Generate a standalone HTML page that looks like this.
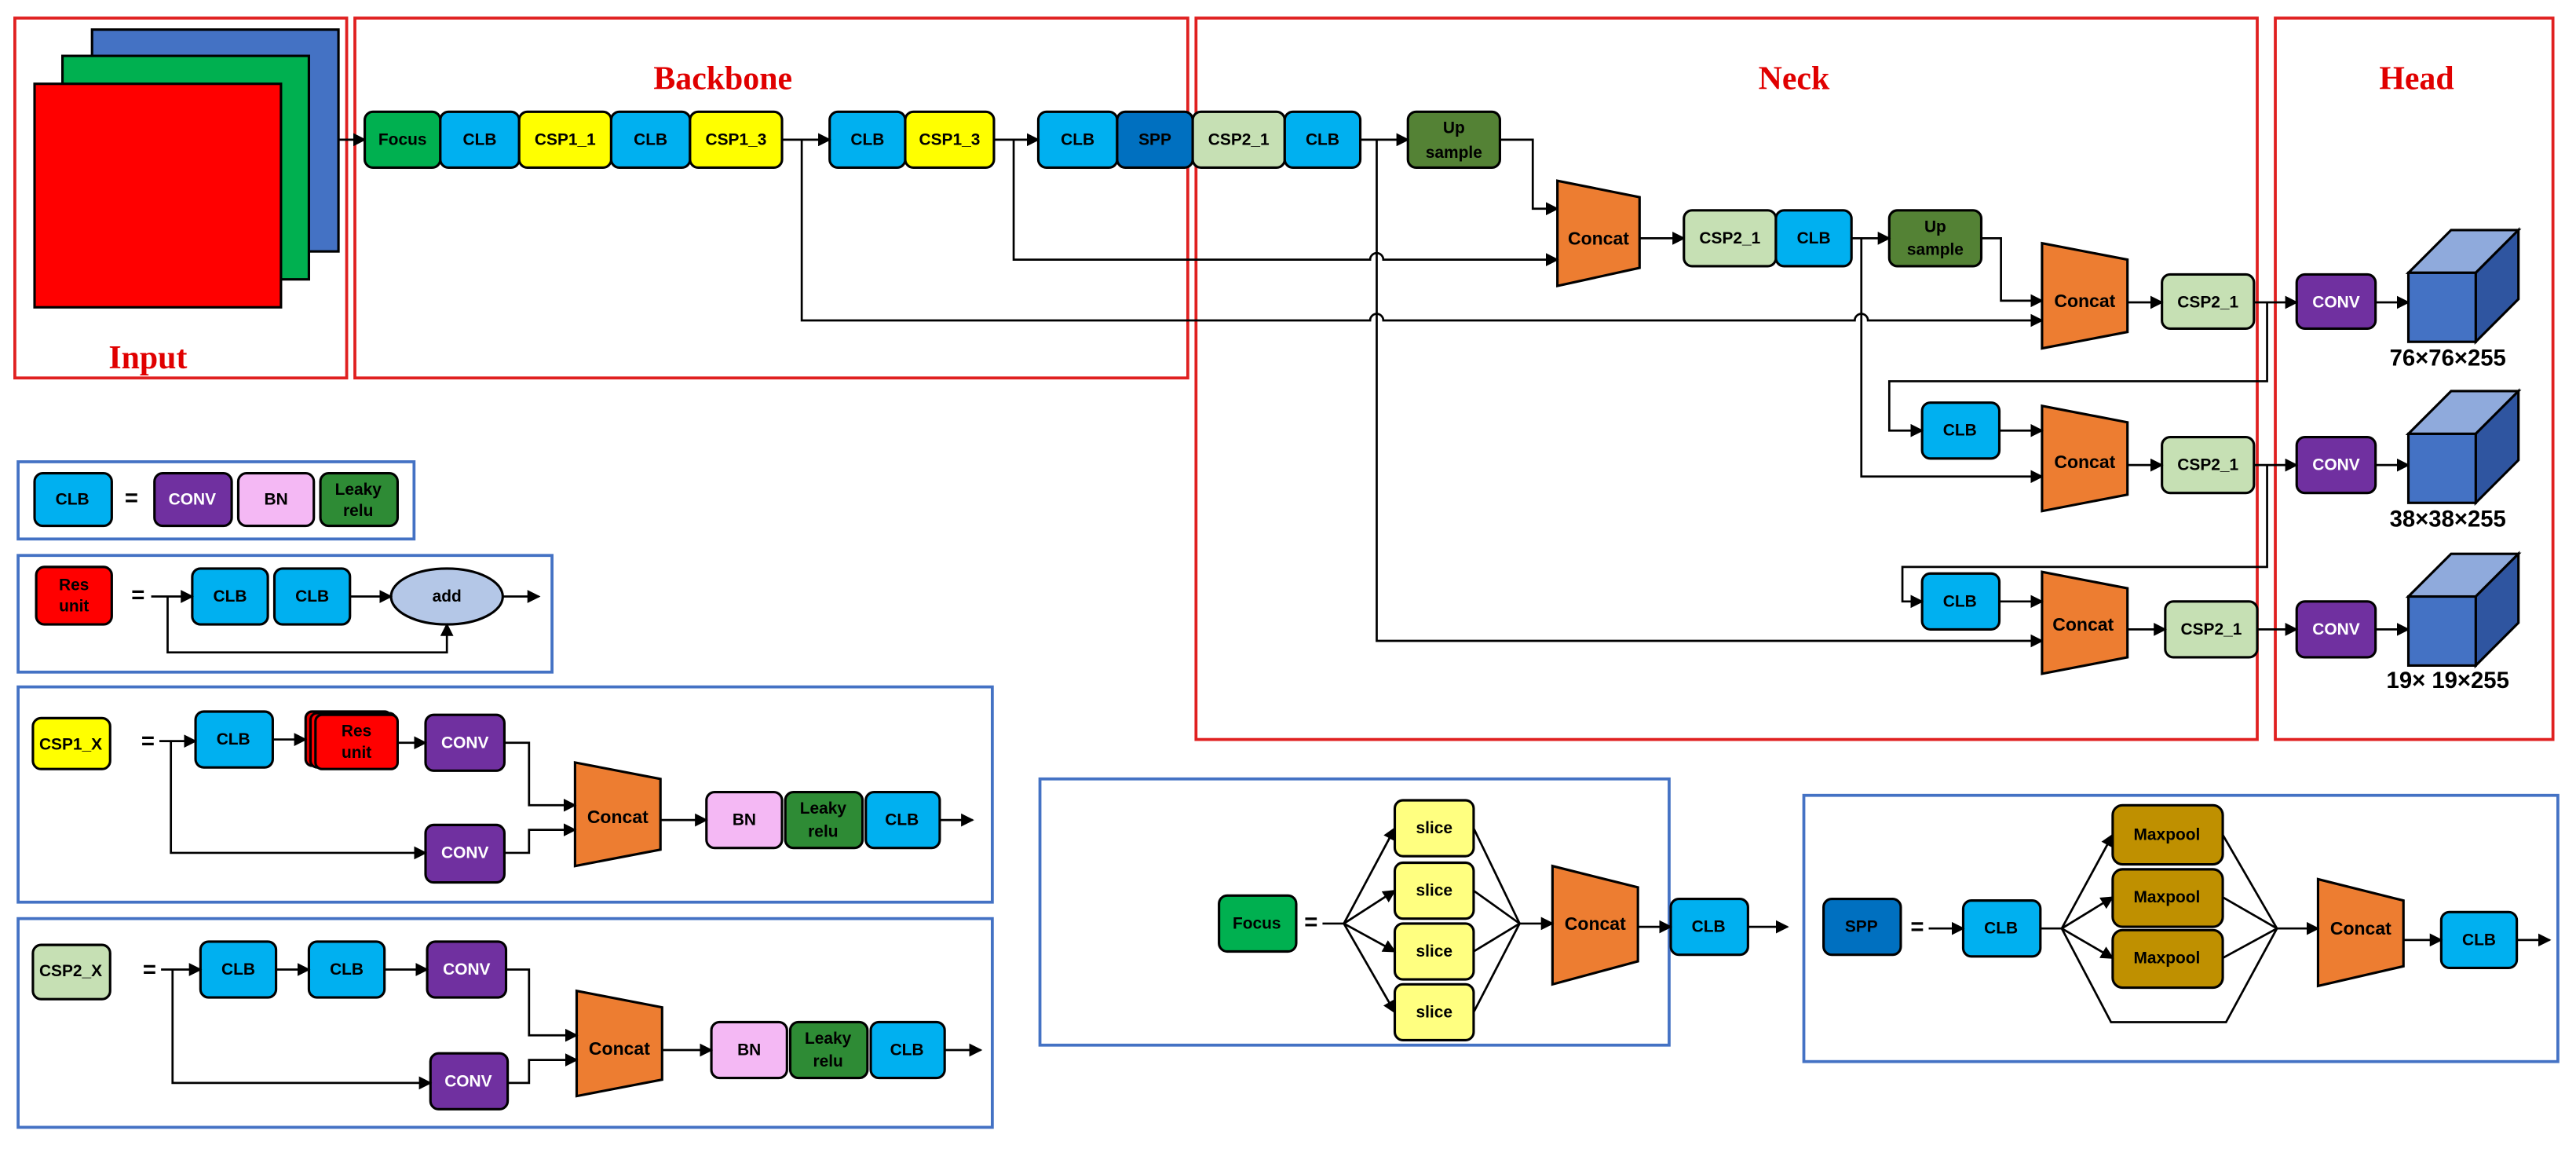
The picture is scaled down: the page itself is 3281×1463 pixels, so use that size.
<!DOCTYPE html>
<html><head><meta charset="utf-8"><style>
html,body{margin:0;padding:0;background:#fff;}
svg{display:block;}
text{font-family:"Liberation Sans",sans-serif;font-weight:bold;text-anchor:middle;dominant-baseline:central;}
.b{stroke:#000;stroke-width:1.5;}
.l{fill:none;stroke:#000;stroke-width:1.3;}
.t{font-size:10px;}
.rt{fill:#e00000;font-family:"Liberation Serif",serif;font-size:20px;}
</style></head><body>
<svg width="3281" height="1463" viewBox="0 0 1568 699.2" xmlns="http://www.w3.org/2000/svg">
<defs><marker id="a" markerWidth="8" markerHeight="8" refX="7" refY="4" orient="auto" markerUnits="userSpaceOnUse"><path d="M0,0 L8,4 L0,8 z" fill="#000"/></marker></defs>
<rect width="1568" height="700" fill="#fff"/>
<g fill="none" stroke="#e02020" stroke-width="1.8">
<rect x="9" y="11" width="202" height="219"/>
<rect x="216" y="11" width="507" height="219"/>
<rect x="728" y="11" width="646" height="439"/>
<rect x="1385" y="11" width="169" height="439"/>
</g>
<text class="rt" x="90" y="218">Input</text>
<text class="rt" x="440" y="48">Backbone</text>
<text class="rt" x="1092" y="48">Neck</text>
<text class="rt" x="1471" y="48">Head</text>
<rect x="56" y="18" width="150" height="135" fill="#4472c4" class="b"/>
<rect x="38" y="34" width="150" height="136" fill="#00b050" class="b"/>
<rect x="21" y="51" width="150" height="136" fill="#ff0000" class="b"/>
<line x1="206" y1="85" x2="222" y2="85" class="l" marker-end="url(#a)"/>
<g class="b">
<rect x="222" y="68" width="46" height="34" rx="5" fill="#00b050"/>
<rect x="268" y="68" width="48" height="34" rx="5" fill="#00b0f0"/>
<rect x="316" y="68" width="56" height="34" rx="5" fill="#ffff00"/>
<rect x="372" y="68" width="48" height="34" rx="5" fill="#00b0f0"/>
<rect x="420" y="68" width="56" height="34" rx="5" fill="#ffff00"/>
<rect x="505" y="68" width="46" height="34" rx="5" fill="#00b0f0"/>
<rect x="551" y="68" width="54" height="34" rx="5" fill="#ffff00"/>
<rect x="632" y="68" width="48" height="34" rx="5" fill="#00b0f0"/>
<rect x="680" y="68" width="46" height="34" rx="5" fill="#0070c0"/>
<rect x="726" y="68" width="56" height="34" rx="5" fill="#c6e0b4"/>
<rect x="782" y="68" width="46" height="34" rx="5" fill="#00b0f0"/>
<rect x="857" y="68" width="56" height="34" rx="5" fill="#548235"/>
</g>
<g class="t">
<text x="245" y="85">Focus</text><text x="292" y="85">CLB</text><text x="344" y="85">CSP1_1</text><text x="396" y="85">CLB</text><text x="448" y="85">CSP1_3</text>
<text x="528" y="85">CLB</text><text x="578" y="85">CSP1_3</text><text x="656" y="85">CLB</text><text x="703" y="85">SPP</text><text x="754" y="85">CSP2_1</text><text x="805" y="85">CLB</text>
<text x="885" y="78">Up</text><text x="885" y="93">sample</text>
</g>
<line x1="476" y1="85" x2="505" y2="85" class="l" marker-end="url(#a)"/>
<line x1="605" y1="85" x2="632" y2="85" class="l" marker-end="url(#a)"/>
<line x1="828" y1="85" x2="857" y2="85" class="l" marker-end="url(#a)"/>
<path d="M913,85 H933 V127 H948" class="l" marker-end="url(#a)"/>
<path d="M948,110 L998,120 L998,163 L948,174 Z" fill="#ed7d31" class="b"/>
<text x="973" y="145" class="t" style="font-size:11px">Concat</text>
<line x1="998" y1="145" x2="1025" y2="145" class="l" marker-end="url(#a)"/>
<g class="b">
<rect x="1025" y="128" width="56" height="34" rx="5" fill="#c6e0b4"/>
<rect x="1081" y="128" width="46" height="34" rx="5" fill="#00b0f0"/>
<rect x="1150" y="128" width="56" height="34" rx="5" fill="#548235"/>
</g>
<g class="t"><text x="1053" y="145">CSP2_1</text><text x="1104" y="145">CLB</text><text x="1178" y="138">Up</text><text x="1178" y="152">sample</text></g>
<line x1="1127" y1="145" x2="1150" y2="145" class="l" marker-end="url(#a)"/>
<path d="M1206,145 H1218 V183 H1243" class="l" marker-end="url(#a)"/>
<path d="M617,85 V158 H834 a4,4 0 0 1 8,0 H948" class="l" marker-end="url(#a)"/>
<path d="M488,85 V195 H834 a4,4 0 0 1 8,0 H1129 a4,4 0 0 1 8,0 H1243" class="l" marker-end="url(#a)"/>
<path d="M838,85 V390 H1243" class="l" marker-end="url(#a)"/>
<path d="M1133,145 V290 H1243" class="l" marker-end="url(#a)"/>
<g fill="#ed7d31" class="b">
<path d="M1243,148 L1295,158 L1295,202 L1243,212 Z"/>
<path d="M1243,247 L1295,257 L1295,301 L1243,311 Z"/>
<path d="M1243,348 L1295,358 L1295,400 L1243,410 Z"/>
</g>
<g class="t" style="font-size:11px"><text x="1269" y="183">Concat</text><text x="1269" y="281">Concat</text><text x="1268" y="380">Concat</text></g>
<g class="b">
<rect x="1316" y="167" width="56" height="33" rx="5" fill="#c6e0b4"/>
<rect x="1316" y="266" width="56" height="34" rx="5" fill="#c6e0b4"/>
<rect x="1318" y="366" width="56" height="34" rx="5" fill="#c6e0b4"/>
<rect x="1170" y="245" width="47" height="34" rx="5" fill="#00b0f0"/>
<rect x="1170" y="349" width="47" height="34" rx="5" fill="#00b0f0"/>
<rect x="1398" y="167" width="48" height="33" rx="5" fill="#7030a0"/>
<rect x="1398" y="266" width="48" height="34" rx="5" fill="#7030a0"/>
<rect x="1398" y="366" width="48" height="34" rx="5" fill="#7030a0"/>
</g>
<g class="t"><text x="1344" y="184">CSP2_1</text><text x="1344" y="283">CSP2_1</text><text x="1346" y="383">CSP2_1</text>
<text x="1193" y="262">CLB</text><text x="1193" y="366">CLB</text></g>
<g class="t"><text x="1422" y="184" fill="#fff">CONV</text><text x="1422" y="283" fill="#fff">CONV</text><text x="1422" y="383" fill="#fff">CONV</text></g>
<g class="l">
<line x1="1295" y1="184" x2="1316" y2="184" marker-end="url(#a)"/>
<line x1="1295" y1="283" x2="1316" y2="283" marker-end="url(#a)"/>
<line x1="1295" y1="383" x2="1318" y2="383" marker-end="url(#a)"/>
<line x1="1372" y1="184" x2="1398" y2="184" marker-end="url(#a)"/>
<line x1="1372" y1="283" x2="1398" y2="283" marker-end="url(#a)"/>
<line x1="1374" y1="383" x2="1398" y2="383" marker-end="url(#a)"/>
<line x1="1446" y1="184" x2="1466" y2="184" marker-end="url(#a)"/>
<line x1="1446" y1="283" x2="1466" y2="283" marker-end="url(#a)"/>
<line x1="1446" y1="383" x2="1466" y2="383" marker-end="url(#a)"/>
<line x1="1217" y1="262" x2="1243" y2="262" marker-end="url(#a)"/>
<line x1="1217" y1="366" x2="1243" y2="366" marker-end="url(#a)"/>
<path d="M1380,184 V232 H1150 V262 H1170" marker-end="url(#a)"/>
<path d="M1380,283 V345 H1158 V366 H1170" marker-end="url(#a)"/>
</g>
<g class="b">
<path d="M1466,166 L1492,140 L1533,140 L1507,166 Z" fill="#8faadc"/>
<path d="M1507,166 L1533,140 L1533,182 L1507,208 Z" fill="#2f55a0"/>
<rect x="1466" y="166" width="41" height="42" fill="#4472c4"/>
<path d="M1466,264 L1492,238 L1533,238 L1507,264 Z" fill="#8faadc"/>
<path d="M1507,264 L1533,238 L1533,280 L1507,306 Z" fill="#2f55a0"/>
<rect x="1466" y="264" width="41" height="42" fill="#4472c4"/>
<path d="M1466,363 L1492,337 L1533,337 L1507,363 Z" fill="#8faadc"/>
<path d="M1507,363 L1533,337 L1533,379 L1507,405 Z" fill="#2f55a0"/>
<rect x="1466" y="363" width="41" height="42" fill="#4472c4"/>
</g>
<g style="font-size:14px"><text x="1490" y="218">76×76×255</text><text x="1490" y="316">38×38×255</text><text x="1490" y="414">19× 19×255</text></g>
<g fill="none" stroke="#4472c4" stroke-width="1.8">
<rect x="11" y="281" width="241" height="47"/>
<rect x="11" y="338" width="325" height="71"/>
<rect x="11" y="418" width="593" height="131"/>
<rect x="11" y="559" width="593" height="127"/>
<rect x="633" y="474" width="383" height="162"/>
<rect x="1098" y="484" width="459" height="162"/>
</g>
<g class="b">
<rect x="21" y="288" width="47" height="32" rx="5" fill="#00b0f0"/>
<rect x="94" y="288" width="47" height="32" rx="5" fill="#7030a0"/>
<rect x="145" y="288" width="46" height="32" rx="5" fill="#f4b8f4"/>
<rect x="195" y="288" width="47" height="32" rx="5" fill="#2e8b35"/>
</g>
<g class="t"><text x="44" y="304">CLB</text><text x="117" y="304" fill="#fff">CONV</text><text x="168" y="304">BN</text><text x="218" y="298">Leaky</text><text x="218" y="311">relu</text></g>
<text x="80" y="303" style="font-size:14px">=</text>
<rect x="22" y="345" width="46" height="35" rx="5" fill="#ff0000" class="b"/>
<g class="t"><text x="45" y="356">Res</text><text x="45" y="369">unit</text></g>
<text x="84" y="362" style="font-size:14px">=</text>
<g class="b"><rect x="117" y="346" width="46" height="34" rx="5" fill="#00b0f0"/><rect x="167" y="346" width="46" height="34" rx="5" fill="#00b0f0"/>
<ellipse cx="272" cy="363" rx="34" ry="17" fill="#b4c7e7"/></g>
<g class="t"><text x="140" y="363">CLB</text><text x="190" y="363">CLB</text><text x="272" y="363">add</text></g>
<g class="l">
<line x1="92" y1="363" x2="117" y2="363" marker-end="url(#a)"/>
<line x1="213" y1="363" x2="238" y2="363" marker-end="url(#a)"/>
<line x1="306" y1="363" x2="328" y2="363" marker-end="url(#a)"/>
<path d="M102,363 V397 H272 V380" marker-end="url(#a)"/>
</g>
<g class="b">
<rect x="20" y="437" width="47" height="31" rx="5" fill="#ffff00"/>
<rect x="119" y="433" width="47" height="34" rx="5" fill="#00b0f0"/>
<rect x="186" y="433" width="52" height="33" rx="4" fill="#e00000"/>
<rect x="189" y="434" width="52" height="33" rx="4" fill="#ff0000"/>
<rect x="192" y="435" width="50" height="33" rx="4" fill="#ff0000"/>
<rect x="259" y="435" width="48" height="34" rx="5" fill="#7030a0"/>
<rect x="259" y="502" width="48" height="35" rx="5" fill="#7030a0"/>
<path d="M350,464 L402,474 L402,517 L350,527 Z" fill="#ed7d31"/>
<rect x="430" y="482" width="46" height="34" rx="5" fill="#f4b8f4"/>
<rect x="478" y="482" width="47" height="34" rx="5" fill="#2e8b35"/>
<rect x="527" y="482" width="45" height="34" rx="5" fill="#00b0f0"/>
</g>
<g class="t"><text x="43" y="453">CSP1_X</text><text x="142" y="450">CLB</text><text x="217" y="445">Res</text><text x="217" y="458">unit</text>
<text x="283" y="452" fill="#fff">CONV</text><text x="283" y="519" fill="#fff">CONV</text><text x="376" y="497" style="font-size:11px">Concat</text>
<text x="453" y="499">BN</text><text x="501" y="492">Leaky</text><text x="501" y="506">relu</text><text x="549" y="499">CLB</text></g>
<text x="90" y="451" style="font-size:14px">=</text>
<g class="l">
<line x1="97" y1="451" x2="119" y2="451" marker-end="url(#a)"/>
<line x1="166" y1="450" x2="186" y2="450" marker-end="url(#a)"/>
<line x1="242" y1="452" x2="259" y2="452" marker-end="url(#a)"/>
<path d="M307,452 H322 V490 H350" marker-end="url(#a)"/>
<path d="M104,451 V519 H259" marker-end="url(#a)"/>
<path d="M307,519 H322 V505 H350" marker-end="url(#a)"/>
<line x1="402" y1="499" x2="430" y2="499" marker-end="url(#a)"/>
<line x1="572" y1="499" x2="592" y2="499" marker-end="url(#a)"/>
</g>
<g class="b">
<rect x="20" y="575" width="47" height="33" rx="5" fill="#c6e0b4"/>
<rect x="122" y="573" width="46" height="34" rx="5" fill="#00b0f0"/>
<rect x="188" y="573" width="46" height="34" rx="5" fill="#00b0f0"/>
<rect x="260" y="573" width="48" height="34" rx="5" fill="#7030a0"/>
<rect x="262" y="641" width="47" height="34" rx="5" fill="#7030a0"/>
<path d="M351,603 L403,613 L403,657 L351,667 Z" fill="#ed7d31"/>
<rect x="433" y="622" width="46" height="34" rx="5" fill="#f4b8f4"/>
<rect x="481" y="622" width="47" height="34" rx="5" fill="#2e8b35"/>
<rect x="530" y="622" width="45" height="34" rx="5" fill="#00b0f0"/>
</g>
<g class="t"><text x="43" y="591">CSP2_X</text><text x="145" y="590">CLB</text><text x="211" y="590">CLB</text>
<text x="284" y="590" fill="#fff">CONV</text><text x="285" y="658" fill="#fff">CONV</text><text x="377" y="638" style="font-size:11px">Concat</text>
<text x="456" y="639">BN</text><text x="504" y="632">Leaky</text><text x="504" y="646">relu</text><text x="552" y="639">CLB</text></g>
<text x="91" y="590" style="font-size:14px">=</text>
<g class="l">
<line x1="98" y1="590" x2="122" y2="590" marker-end="url(#a)"/>
<line x1="168" y1="590" x2="188" y2="590" marker-end="url(#a)"/>
<line x1="234" y1="590" x2="260" y2="590" marker-end="url(#a)"/>
<path d="M308,590 H322 V630 H351" marker-end="url(#a)"/>
<path d="M105,590 V659 H262" marker-end="url(#a)"/>
<path d="M309,659 H322 V645 H351" marker-end="url(#a)"/>
<line x1="403" y1="639" x2="433" y2="639" marker-end="url(#a)"/>
<line x1="575" y1="639" x2="597" y2="639" marker-end="url(#a)"/>
</g>
<g class="b">
<rect x="742" y="545" width="47" height="34" rx="5" fill="#00b050"/>
<rect x="849" y="487" width="48" height="34" rx="5" fill="#ffff80"/>
<rect x="849" y="525" width="48" height="34" rx="5" fill="#ffff80"/>
<rect x="849" y="562" width="48" height="34" rx="5" fill="#ffff80"/>
<rect x="849" y="599" width="48" height="34" rx="5" fill="#ffff80"/>
<path d="M945,527 L997,540 L997,585 L945,599 Z" fill="#ed7d31"/>
<rect x="1017" y="547" width="47" height="34" rx="5" fill="#00b0f0"/>
</g>
<g class="t"><text x="765" y="562">Focus</text><text x="873" y="504">slice</text><text x="873" y="542">slice</text><text x="873" y="579">slice</text><text x="873" y="616">slice</text>
<text x="971" y="562" style="font-size:11px">Concat</text><text x="1040" y="564">CLB</text></g>
<text x="798" y="561" style="font-size:14px">=</text>
<g class="l">
<line x1="805" y1="562" x2="818" y2="562"/>
<line x1="818" y1="562" x2="849" y2="504" marker-end="url(#a)"/>
<line x1="818" y1="562" x2="849" y2="542" marker-end="url(#a)"/>
<line x1="818" y1="562" x2="849" y2="579" marker-end="url(#a)"/>
<line x1="818" y1="562" x2="849" y2="616" marker-end="url(#a)"/>
<line x1="897" y1="504" x2="925" y2="562"/><line x1="897" y1="542" x2="925" y2="562"/>
<line x1="897" y1="579" x2="925" y2="562"/><line x1="897" y1="616" x2="925" y2="562"/>
<line x1="925" y1="562" x2="945" y2="562" marker-end="url(#a)"/>
<line x1="997" y1="564" x2="1017" y2="564" marker-end="url(#a)"/>
<line x1="1064" y1="564" x2="1088" y2="564" marker-end="url(#a)"/>
</g>
<g class="b">
<rect x="1110" y="547" width="47" height="34" rx="5" fill="#0070c0"/>
<rect x="1195" y="548" width="47" height="34" rx="5" fill="#00b0f0"/>
<rect x="1286" y="490" width="67" height="36" rx="6" fill="#bf9000"/>
<rect x="1286" y="529" width="67" height="35" rx="6" fill="#bf9000"/>
<rect x="1286" y="566" width="67" height="35" rx="6" fill="#bf9000"/>
<path d="M1411,535 L1463,548 L1463,588 L1411,600 Z" fill="#ed7d31"/>
<rect x="1486" y="555" width="46" height="34" rx="5" fill="#00b0f0"/>
</g>
<g class="t"><text x="1133" y="564">SPP</text><text x="1218" y="565">CLB</text><text x="1319" y="508">Maxpool</text><text x="1319" y="546">Maxpool</text><text x="1319" y="583">Maxpool</text>
<text x="1437" y="565" style="font-size:11px">Concat</text><text x="1509" y="572">CLB</text></g>
<text x="1167" y="564" style="font-size:14px">=</text>
<g class="l">
<line x1="1174" y1="565" x2="1195" y2="565" marker-end="url(#a)"/>
<line x1="1242" y1="565" x2="1255" y2="565"/>
<line x1="1255" y1="565" x2="1286" y2="508" marker-end="url(#a)"/>
<line x1="1255" y1="565" x2="1286" y2="546" marker-end="url(#a)"/>
<line x1="1255" y1="565" x2="1286" y2="583" marker-end="url(#a)"/>
<path d="M1255,565 L1285,622 H1355 L1386,565"/>
<line x1="1353" y1="508" x2="1386" y2="565"/><line x1="1353" y1="546" x2="1386" y2="565"/><line x1="1353" y1="583" x2="1386" y2="565"/>
<line x1="1386" y1="565" x2="1411" y2="565" marker-end="url(#a)"/>
<line x1="1463" y1="572" x2="1486" y2="572" marker-end="url(#a)"/>
<line x1="1532" y1="572" x2="1552" y2="572" marker-end="url(#a)"/>
</g>
</svg>
</body></html>
